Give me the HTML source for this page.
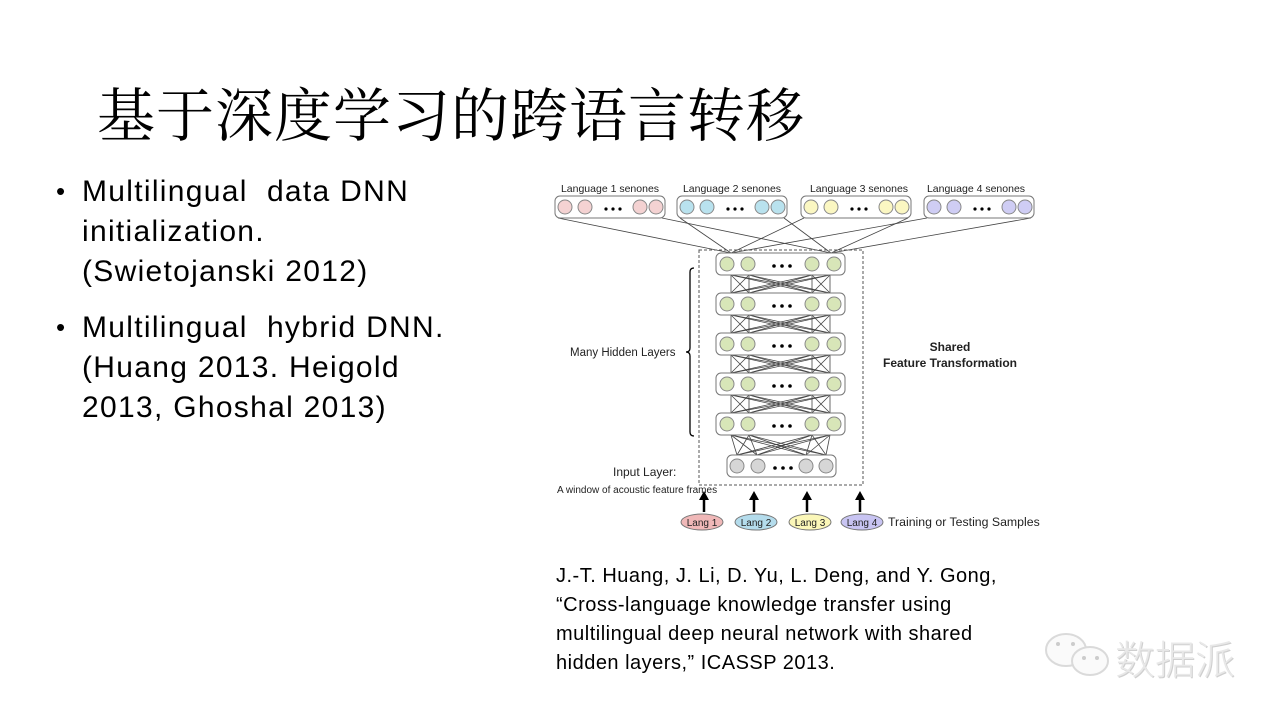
<!DOCTYPE html>
<html><head><meta charset="utf-8">
<style>
html,body{margin:0;padding:0;background:#fff;}
body{width:1280px;height:720px;position:relative;overflow:hidden;font-family:"Liberation Sans","Noto Sans CJK SC",sans-serif;}
.title{position:absolute;left:97px;top:69px;font-family:"Noto Serif CJK SC","Noto Sans CJK SC",serif;font-size:58px;color:#000;letter-spacing:1px;white-space:nowrap;}
.bl{position:absolute;left:82px;font-size:30px;color:#000;line-height:40px;letter-spacing:1.3px;white-space:nowrap;}
.dot{position:absolute;left:56px;font-size:26px;}
.cite{position:absolute;left:556px;top:562px;font-size:20px;line-height:29px;color:#000;letter-spacing:0.5px;white-space:nowrap;}
.wm{position:absolute;left:1115px;top:628px;font-size:40px;color:#e8e8e8;font-family:"Noto Sans CJK SC",sans-serif;font-weight:300;text-shadow:1px 1px 0 #cfcfcf;}
</style></head><body>
<div class="title">基于深度学习的跨语言转移</div>
<div class="dot" style="top:176px">•</div>
<div class="bl" style="top:172px">Multilingual&nbsp; data DNN<br>initialization.<br>(Swietojanski 2012)</div>
<div class="dot" style="top:312px">•</div>
<div class="bl" style="top:308px">Multilingual&nbsp; hybrid DNN.<br>(Huang 2013. Heigold<br>2013, Ghoshal 2013)</div>
<div class="cite">J.-T. Huang, J. Li, D. Yu, L. Deng, and Y. Gong,<br>“Cross-language knowledge transfer using<br>multilingual deep neural network with shared<br>hidden layers,” ICASSP 2013.</div>
<svg style="position:absolute;left:1040px;top:628px" width="75" height="55" viewBox="0 0 75 55">
<ellipse cx="26" cy="22" rx="20" ry="16" fill="#fafafa" stroke="#dadada" stroke-width="2"/>
<ellipse cx="50" cy="33" rx="18" ry="14" fill="#fafafa" stroke="#dadada" stroke-width="2"/>
<circle cx="18" cy="16" r="2" fill="#ccc"/><circle cx="33" cy="16" r="2" fill="#ccc"/>
<circle cx="44" cy="30" r="2" fill="#ccc"/><circle cx="57" cy="30" r="2" fill="#ccc"/>
</svg>
<div class="wm">数据派</div>
<svg id="net" style="position:absolute;left:0;top:0" width="1280" height="720" font-family="Liberation Sans, sans-serif">
<g id="lines" stroke="#555" stroke-width="0.8" fill="none"></g>
<g id="shapes"></g>
<g font-size="10.5" fill="#222">
<text x="610" y="192" text-anchor="middle">Language 1 senones</text>
<text x="732" y="192" text-anchor="middle">Language 2 senones</text>
<text x="859" y="192" text-anchor="middle">Language 3 senones</text>
<text x="976" y="192" text-anchor="middle">Language 4 senones</text>
<text x="570" y="356" font-size="11.5">Many Hidden Layers</text>
<text x="950" y="351" text-anchor="middle" font-weight="bold" font-size="12">Shared</text>
<text x="950" y="367" text-anchor="middle" font-weight="bold" font-size="12">Feature Transformation</text>
<text x="613" y="476" font-size="12">Input Layer:</text>
<text x="557" y="493" font-size="10">A window of acoustic feature frames</text>
<text x="888" y="526" font-size="12.3">Training or Testing Samples</text>
<text x="702" y="526" text-anchor="middle" font-size="10">Lang 1</text>
<text x="756" y="526" text-anchor="middle" font-size="10">Lang 2</text>
<text x="810" y="526" text-anchor="middle" font-size="10">Lang 3</text>
<text x="862" y="526" text-anchor="middle" font-size="10">Lang 4</text>
</g>
</svg>
<script>
var NS="http://www.w3.org/2000/svg";
var L=document.getElementById('lines'),S=document.getElementById('shapes');
function el(p,tag,a){var e=document.createElementNS(NS,tag);for(var k in a)e.setAttribute(k,a[k]);p.appendChild(e);return e;}
function line(x1,y1,x2,y2,p,w){el(p||L,'line',{x1:x1,y1:y1,x2:x2,y2:y2,stroke:'#444','stroke-width':w||0.8});}
function layer(x,y,w,xs,fill,dx){
 el(S,'rect',{x:x,y:y-11,width:w,height:22,rx:5,fill:'#fff',stroke:'#777','stroke-width':1});
 xs.forEach(function(c){el(S,'circle',{cx:c,cy:y,r:7,fill:fill,stroke:'#888','stroke-width':1});});
 for(var i=0;i<3;i++)el(S,'circle',{cx:dx+i*8,cy:y+2,r:1.8,fill:'#000'});
}
var topB=[[555,665],[677,787],[801,911],[924,1034]];
topB.forEach(function(b){line(b[0]+3,218,731,253);line(b[1]-3,218,831,253);});
var ys=[264,304,344,384,424];
var hx=[731,749,812,830];
for(var i=0;i<ys.length-1;i++){
 hx.forEach(function(a){hx.forEach(function(b){line(a,ys[i]+11,b,ys[i+1]-11);});});
}
var ix=[737,757,806,826];
hx.forEach(function(a){ix.forEach(function(b){line(a,435,b,455);});});
el(S,'rect',{x:699,y:250,width:164,height:235,fill:'none',stroke:'#555','stroke-width':1,'stroke-dasharray':'3,2'});
var fills=['#f4d2d2','#b9e2ee','#fbf7c2','#cfcdf4'];
topB.forEach(function(b,k){
 el(S,'rect',{x:b[0],y:196,width:b[1]-b[0],height:22,rx:5,fill:'#fff',stroke:'#777','stroke-width':1});
 [b[0]+10,b[0]+30,b[1]-25,b[1]-9].forEach(function(c){el(S,'circle',{cx:c,cy:207,r:7,fill:fills[k],stroke:'#888','stroke-width':1});});
 for(var i=0;i<3;i++)el(S,'circle',{cx:b[0]+51+i*7,cy:209,r:1.6,fill:'#000'});
});
ys.forEach(function(y){layer(716,y,129,[727,748,812,834],'#d8e6b8',774);});
layer(727,466,109,[737,758,806,826],'#d6d6d6',775);
el(S,'path',{d:'M694 268 Q690 268 690 272 L690 348 Q690 352 686 352 Q690 352 690 356 L690 432 Q690 436 694 436',fill:'none',stroke:'#000','stroke-width':1.3});
var ac=[704,754,807,860],ec=[702,756,810,862],ef=['#f0b8b8','#b4dcec','#fbf7b8','#c8c4f2'];
ac.forEach(function(x){el(S,'line',{x1:x,y1:512,x2:x,y2:499,stroke:'#000','stroke-width':2.5});el(S,'path',{d:'M'+(x-5)+' 500 L'+x+' 491 L'+(x+5)+' 500 Z',fill:'#000'});});
ec.forEach(function(x,k){el(S,'ellipse',{cx:x,cy:522,rx:21,ry:8,fill:ef[k],stroke:'#777','stroke-width':1});});
var svg=document.getElementById('net');svg.appendChild(svg.querySelector('g[font-size]'));
</script>
</body></html>
